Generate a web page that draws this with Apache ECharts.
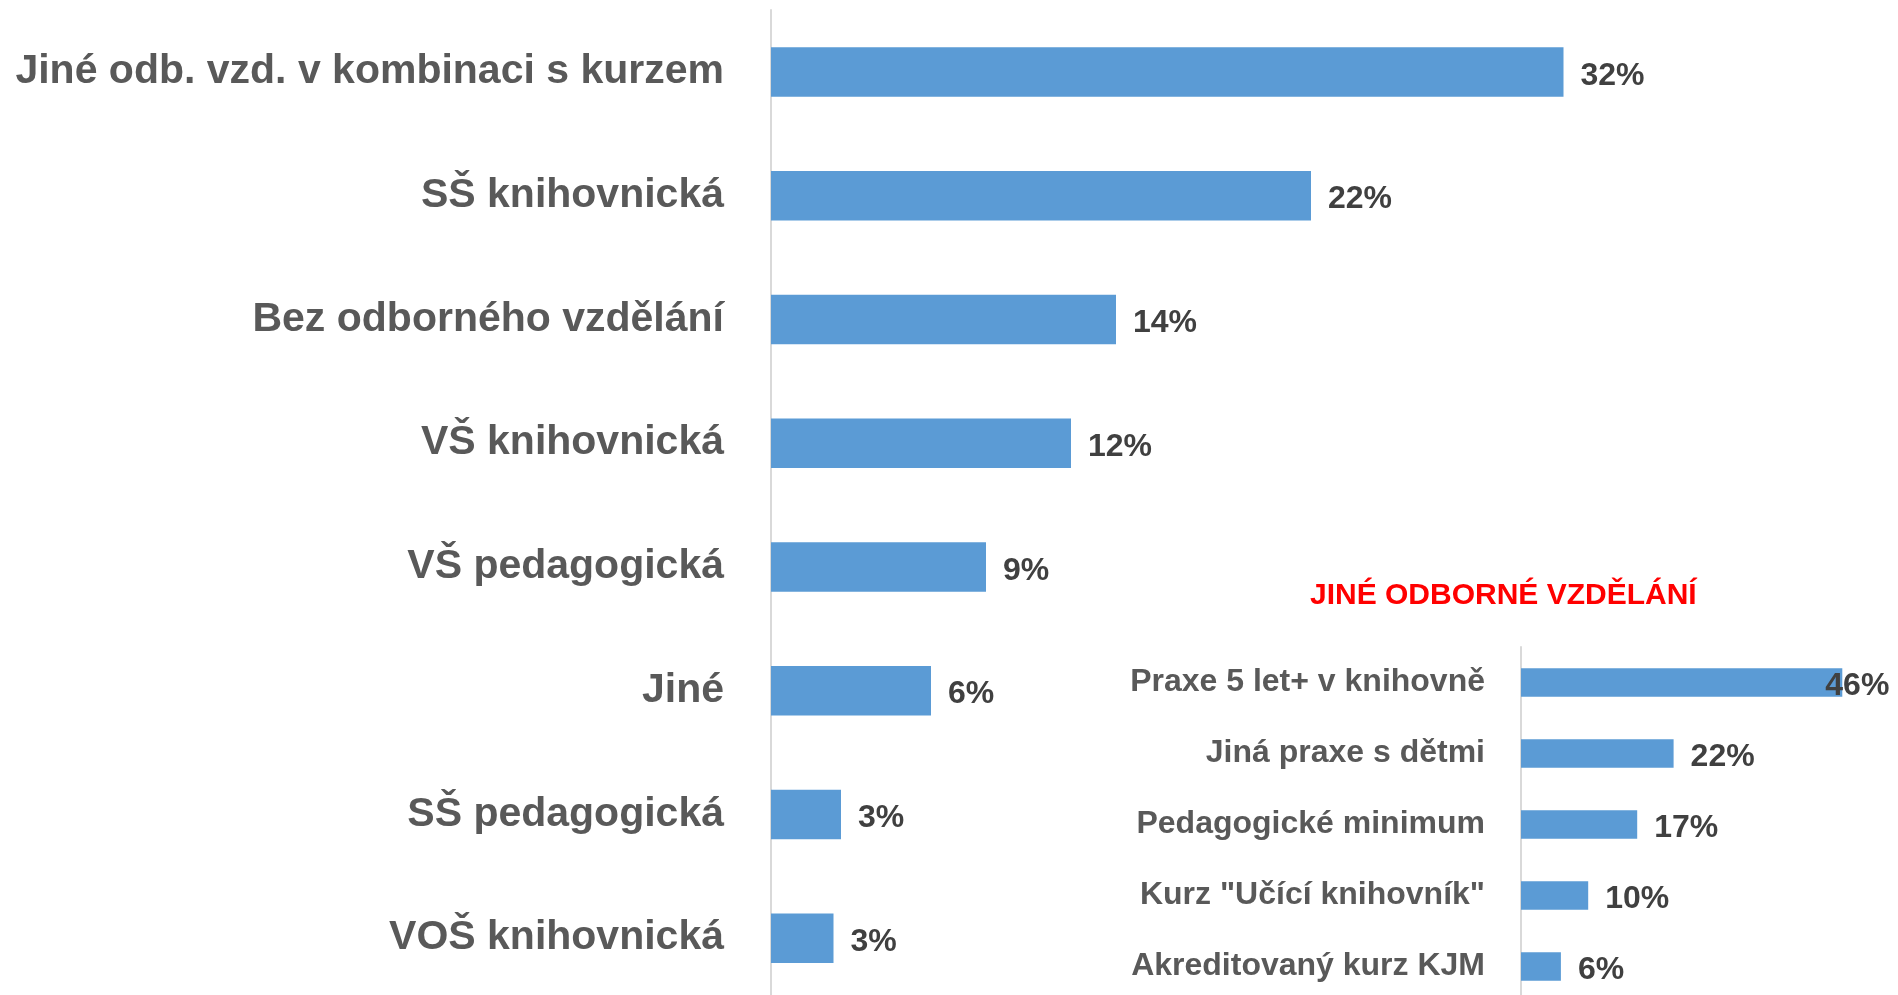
<!DOCTYPE html>
<html>
<head>
<meta charset="utf-8">
<script src="https://cdn.jsdelivr.net/npm/echarts@6/dist/echarts.min.js"></script>
<style>
  html, body { margin: 0; padding: 0; background: #fff; }
  #chart { width: 1898px; height: 995px; }
</style>
</head>
<body>
<div id="chart"></div>
<script>
// hlavni graf
var mainCategories = [
  'Jiné odb. vzd. v kombinaci s kurzem',
  'SŠ knihovnická',
  'Bez odborného vzdělání',
  'VŠ knihovnická',
  'VŠ pedagogická',
  'Jiné',
  'SŠ pedagogická',
  'VOŠ knihovnická'
]
var mainValues = [31.7, 21.6, 13.8, 12.0, 8.6, 6.4, 2.8, 2.5]

// vlozeny graf - jine odborne vzdelani
var insetTitle = 'JINÉ ODBORNÉ VZDĚLÁNÍ'
var insetCategories = [
  'Praxe 5 let+ v knihovně',
  'Jiná praxe s dětmi',
  'Pedagogické minimum',
  'Kurz "Učící knihovník"',
  'Akreditovaný kurz KJM'
]
var insetValues = [45.9, 21.8, 16.6, 9.6, 5.7]

var FONT = '"Liberation Sans", Arial, sans-serif'
var BLUE = '#5B9BD5'

function pct(p) {
  return Math.round(p.value) + '%'
}

var chart = echarts.init(document.getElementById('chart'))

chart.setOption({
  animation: false,
  backgroundColor: '#fff',
  title: {
    text: insetTitle,
    left: 1305,
    top: 576,
    textStyle: {
      color: '#FF0000',
      fontFamily: FONT,
      fontWeight: 'bold',
      fontSize: 30
    }
  },
  grid: [
    { left: 771, top: 10, width: 1000, height: 990, outerBoundsMode: 'none' },
    { left: 1521, top: 647, width: 350, height: 355, outerBoundsMode: 'none' }
  ],
  xAxis: [
    { type: 'value', gridIndex: 0, min: 0, max: 40, show: false },
    { type: 'value', gridIndex: 1, min: 0, max: 50, show: false }
  ],
  yAxis: [
    {
      type: 'category',
      gridIndex: 0,
      inverse: true,
      data: mainCategories,
      axisLine: { show: true, lineStyle: { color: '#D9D9D9', width: 2 } },
      axisTick: { show: false },
      axisLabel: {
        margin: 47,
        padding: [8, 0, 0, 0],
        color: '#595959',
        fontFamily: FONT,
        fontWeight: 'bold',
        fontSize: 41
      }
    },
    {
      type: 'category',
      gridIndex: 1,
      inverse: true,
      data: insetCategories,
      axisLine: { show: true, lineStyle: { color: '#D9D9D9', width: 2 } },
      axisTick: { show: false },
      axisLabel: {
        margin: 36,
        padding: [4, 0, 0, 0],
        color: '#595959',
        fontFamily: FONT,
        fontWeight: 'bold',
        fontSize: 32
      }
    }
  ],
  series: [
    {
      type: 'bar',
      xAxisIndex: 0,
      yAxisIndex: 0,
      barWidth: '40%',
      data: mainValues,
      itemStyle: { color: BLUE },
      label: {
        show: true,
        position: 'right',
        distance: 17,
        offset: [0, 4],
        formatter: pct,
        color: '#404040',
        fontFamily: FONT,
        fontWeight: 'bold',
        fontSize: 32
      }
    },
    {
      type: 'bar',
      xAxisIndex: 1,
      yAxisIndex: 1,
      barWidth: '40%',
      // prvni popisek se v originale prekryva s koncem sloupce
      data: insetValues.map(function(v, i) {
        return i === 0 ? { value: v, label: { offset: [-34, 4] } } : v
      }),
      itemStyle: { color: BLUE },
      label: {
        show: true,
        position: 'right',
        distance: 17,
        offset: [0, 4],
        formatter: pct,
        color: '#404040',
        fontFamily: FONT,
        fontWeight: 'bold',
        fontSize: 32
      }
    }
  ]
})
</script>
</body>
</html>
